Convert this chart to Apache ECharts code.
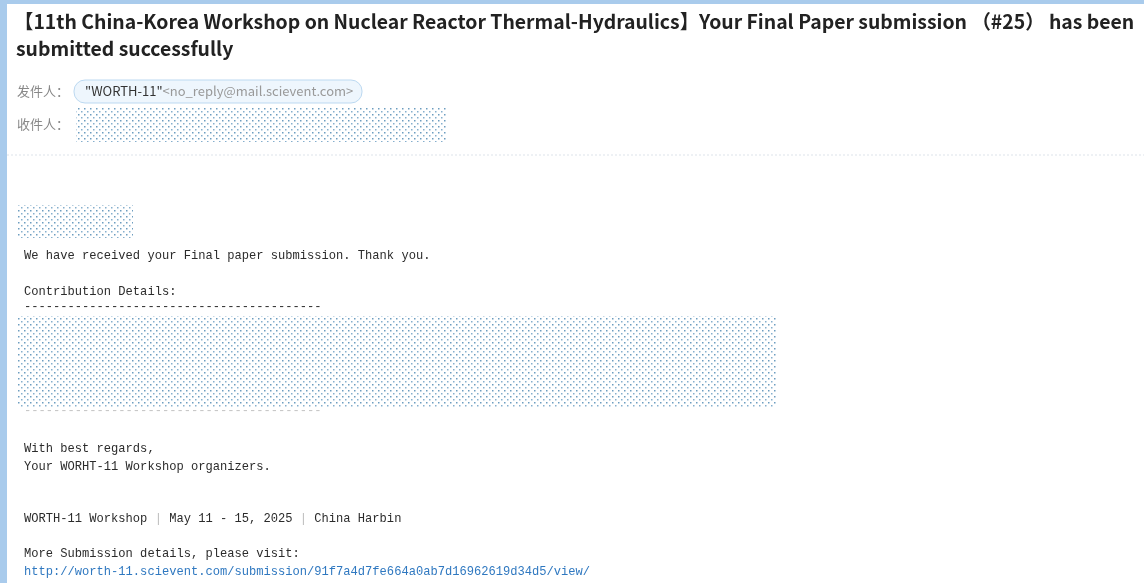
<!DOCTYPE html>
<html>
<head>
<meta charset="utf-8">
<script src="https://cdn.jsdelivr.net/npm/echarts@6/dist/echarts.min.js"></script>
<style>
  html, body { margin: 0; padding: 0; background: #fff; }
  #mail { width: 1144px; height: 583px; }
</style>
</head>
<body>
<div id="mail"></div>
<script>
// mail texts
var titleLines = [
    '【11th China-Korea Workshop on Nuclear Reactor Thermal-Hydraulics】Your Final Paper submission （#25） has been',
    'submitted successfully'
];
var headerLabels = ['发件人：', '收件人：'];
var senderName = '"WORTH-11"';
var senderAddr = '<no_reply@mail.scievent.com>';
var bodyLines = [
    'We have received your Final paper submission. Thank you.',
    'Contribution Details:',
    '-----------------------------------------'
];
var closingLines = ['With best regards,', 'Your WORHT-11 Workshop organizers.'];
var footerParts = ['WORTH-11 Workshop', 'May 11 - 15, 2025', 'China Harbin'];
var visitLine = 'More Submission details, please visit:';
var linkText = 'http://worth-11.scievent.com/submission/91f7a4d7fe664a0ab7d16962619d34d5/view/';

var chartDom = document.getElementById('mail');
var mailChart = echarts.init(chartDom);

// dotted pattern used for the masked areas
var pat = document.createElement('canvas');
pat.width = 6; pat.height = 6;
var pc = pat.getContext('2d');
pc.fillStyle = '#6d9dc0';
pc.fillRect(0, 0, 1.5, 1.5);
pc.fillStyle = '#86afcd';
pc.fillRect(3, 3, 1.5, 1.5);
var maskFill = { image: pat, repeat: 'repeat' };

var sans = '"Noto Sans CJK SC", "Noto Sans", sans-serif';
var mono = '"Liberation Mono", "DejaVu Sans Mono", monospace';

function txt(x, y, s, style) {
    return {
        type: 'text', x: x, y: y,
        style: Object.assign({ text: s, verticalAlign: 'middle', fill: '#2b2b2b', font: '12.1px ' + mono }, style)
    };
}

var els = [
    // frame
    { type: 'rect', shape: { x: 0, y: 0, width: 1144, height: 4 }, style: { fill: '#a9cbec' } },
    { type: 'rect', shape: { x: 0, y: 0, width: 7, height: 583 }, style: { fill: '#a9cbec' } },
    // title
    txt(14, 22, titleLines[0], { fill: '#222', font: 'bold 19.4px ' + sans }),
    txt(16, 49, titleLines[1], { fill: '#222', font: 'bold 19.4px ' + sans }),
    // header
    txt(17, 91, headerLabels[0], { fill: '#888', font: '13px ' + sans }),
    txt(17, 124, headerLabels[1], { fill: '#888', font: '13px ' + sans }),
    { type: 'rect', shape: { x: 74, y: 80, width: 288, height: 23, r: 11 },
      style: { fill: '#eef6fd', stroke: '#bcd9f1', lineWidth: 1 } },
    {
        type: 'text', x: 85, y: 91,
        style: {
            text: '{a|' + senderName + '}{b|' + senderAddr + '}', verticalAlign: 'middle',
            rich: {
                a: { fill: '#333', font: '13px ' + sans },
                b: { fill: '#999', font: '13px ' + sans }
            }
        }
    },
    { type: 'rect', shape: { x: 76, y: 108, width: 371, height: 34 }, style: { fill: maskFill } },
    { type: 'line', shape: { x1: 7, y1: 155, x2: 1144, y2: 155 },
      style: { stroke: '#dde3ea', lineWidth: 1, lineDash: [2, 2] } },
    // body
    { type: 'rect', shape: { x: 17, y: 205, width: 116, height: 33 }, style: { fill: maskFill } },
    txt(24, 256, bodyLines[0]),
    txt(24, 292, bodyLines[1]),
    txt(24, 307, bodyLines[2]),
    { type: 'rect', shape: { x: 17, y: 316, width: 759, height: 92 }, style: { fill: maskFill } },
    txt(24, 411, bodyLines[2], { fill: '#c4c4c4' }),
    txt(24, 449, closingLines[0]),
    txt(24, 467, closingLines[1]),
    {
        type: 'text', x: 24, y: 519,
        style: {
            text: footerParts[0] + ' {s||} ' + footerParts[1] + ' {s||} ' + footerParts[2],
            verticalAlign: 'middle', fill: '#2b2b2b', font: '12.1px ' + mono,
            rich: { s: { fill: '#bbb', font: '12.1px ' + mono } }
        }
    },
    txt(24, 554, visitLine),
    txt(24, 572, linkText, { fill: '#2f78c0' })
];

mailChart.setOption({
    backgroundColor: '#fff',
    graphic: { elements: els }
});
</script>
</body>
</html>
